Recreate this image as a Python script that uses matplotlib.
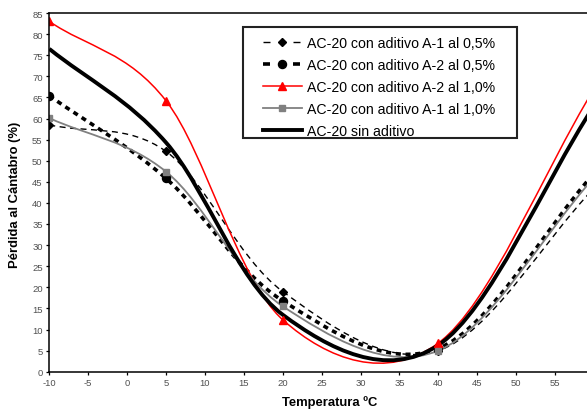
import matplotlib
matplotlib.use('Agg')
import numpy as np
import matplotlib.pyplot as plt
from matplotlib.path import Path
from matplotlib.patches import PathPatch, Rectangle
from matplotlib.lines import Line2D

plt.rcParams['font.family'] = ['Liberation Sans', 'DejaVu Sans']
plt.rcParams['axes.unicode_minus'] = False

# test temperatures (ºC)
temps = [-10, 5, 20, 40, 60]

# Pérdida al Cántabro (%) per mix
a1_05 = [58.5, 52.2, 19.0, 5.0, 43.5]
a2_05 = [65.4, 45.8, 16.8, 5.5, 47.0]
a2_10 = [83.0, 64.2, 12.3, 6.8, 67.0]
a1_10 = [60.1, 47.4, 15.5, 5.0, 46.0]
sin_aditivo = [76.5, 54.3, 13.5, 6.3, 63.0]

labels = ['AC-20 con aditivo A-1 al 0,5%',
          'AC-20 con aditivo A-2 al 0,5%',
          'AC-20 con aditivo A-2 al 1,0%',
          'AC-20 con aditivo A-1 al 1,0%',
          'AC-20 sin aditivo']

x_ticks = list(range(-10, 60, 5))
y_ticks = list(range(0, 90, 5))


def smooth_path(ax, xs, ys):
    # spreadsheet style smoothed line: bezier, control points worked out in screen space
    pts = ax.transData.transform(np.column_stack([xs, ys]))
    n = len(pts)
    verts = [pts[0]]
    codes = [Path.MOVETO]
    for i in range(n - 1):
        p0 = pts[i - 1] if i > 0 else pts[i]
        p1 = pts[i]
        p2 = pts[i + 1]
        p3 = pts[i + 2] if i + 2 < n else pts[i + 1]
        d12 = np.hypot(*(p2 - p1))
        d02 = np.hypot(*(p2 - p0))
        d13 = np.hypot(*(p3 - p1))
        if d02 / 6 < d12 / 2 and d13 / 6 < d12 / 2:
            f1 = 1 / 6 if i > 0 else 1 / 3
            f2 = 1 / 6 if i + 2 < n else 1 / 3
            b1 = p1 + (p2 - p0) * f1
            b2 = p2 - (p3 - p1) * f2
        elif d02 / 6 >= d12 / 2 and d13 / 6 >= d12 / 2:
            b1 = p1 + (p2 - p0) * (d12 / 2 / d02)
            b2 = p2 - (p3 - p1) * (d12 / 2 / d13)
        elif d02 / 6 >= d12 / 2:
            b1 = p1 + (p2 - p0) * (d12 / 2 / d02)
            b2 = p2 - (p3 - p1) * (d12 / 2 / d02)
        else:
            b1 = p1 + (p2 - p0) * (d12 / 2 / d13)
            b2 = p2 - (p3 - p1) * (d12 / 2 / d13)
        verts += [b1, b2, p2]
        codes += [Path.CURVE4] * 3
    verts = ax.transData.inverted().transform(np.array(verts))
    return Path(verts, codes)


W, H = 587, 410
fig = plt.figure(figsize=(W / 100, H / 100), dpi=100)
x0, x1, y0, y1 = 49.3, 587, 14, 372.7
ax = fig.add_axes([x0 / W, (H - y1) / H, (x1 - x0) / W, (y1 - y0) / H])
ax.set_xlim(-10, 59.1)
ax.set_ylim(0, 85)

px = 72 / 100  # points per pixel
styles = [
    dict(color='black', lw=1.0, ls=(0, (6 * px, 4.5 * px)), marker='D', ms=4.3, mfc='black',
         lls=(0, (7 * px, 23 * px))),
    dict(color='black', lw=2.6, ls=(0, (1.4, 1.3)), marker='o', ms=5.8, mfc='black',
         lls=(0, (7 * px / 2.6, 23 * px / 2.6))),
    dict(color='#ff0000', lw=1.1, ls='-', marker='^', ms=6, mfc='#ff0000', lls='-'),
    dict(color='#808080', lw=1.3, ls='-', marker='s', ms=5, mfc='#808080', lls='-'),
    dict(color='black', lw=2.8, ls='-', marker=None, ms=0, mfc='black', lls='-'),
]
series = [a1_05, a2_05, a2_10, a1_10, sin_aditivo]

handles = []
for ys, st, lab in zip(series, styles, labels):
    patch = PathPatch(smooth_path(ax, temps, ys), fill=False, edgecolor=st['color'],
                      lw=st['lw'], linestyle=st['ls'], capstyle='butt')
    ax.add_patch(patch)
    if st['marker']:
        ax.plot(temps, ys, ls='none', marker=st['marker'], ms=st['ms'],
                color=st['color'], mfc=st['mfc'], mec=st['color'])
    handles.append(Line2D([], [], color=st['color'], lw=st['lw'], ls=st['lls'],
                          marker=st['marker'], ms=st['ms'],
                          mfc=st['mfc'], mec=st['color'], dash_capstyle='butt'))

ax.set_xticks(x_ticks)
ax.set_yticks(y_ticks)
ax.tick_params(direction='out', length=2.3, width=0.9, labelsize=6.8, pad=2.5,
               labelcolor='#505050', color='black')
ax.spines['right'].set_visible(False)
for s in ['left', 'bottom', 'top']:
    ax.spines[s].set_linewidth(1.1)

ax.set_xlabel('Temperatura ºC', fontsize=9.4, fontweight='bold')
ax.set_ylabel('Pérdida al Cántabro (%)', fontsize=9.4, fontweight='bold')
ax.xaxis.set_label_coords((330 - x0) / (x1 - x0), (y1 - 396.5) / (y1 - y0))
ax.yaxis.set_label_coords((21 - x0) / (x1 - x0), 0.497)

# legend frame drawn in figure pixels, legend itself without frame
fig.patches.append(Rectangle((242.7 / W, 1 - 138.5 / H), (517 - 242.7) / W, (138.5 - 28) / H,
                             transform=fig.transFigure, fill=False,
                             edgecolor='#222222', lw=1.5, zorder=5))
leg = fig.legend(handles, labels, loc='upper left',
                 bbox_to_anchor=(263 / W, 1 - 37 / H), bbox_transform=fig.transFigure,
                 frameon=False, fontsize=10.2, handlelength=2.75, handletextpad=0.33,
                 labelspacing=0.56, borderaxespad=0, borderpad=0)

fig.savefig('out.png', dpi=100)
